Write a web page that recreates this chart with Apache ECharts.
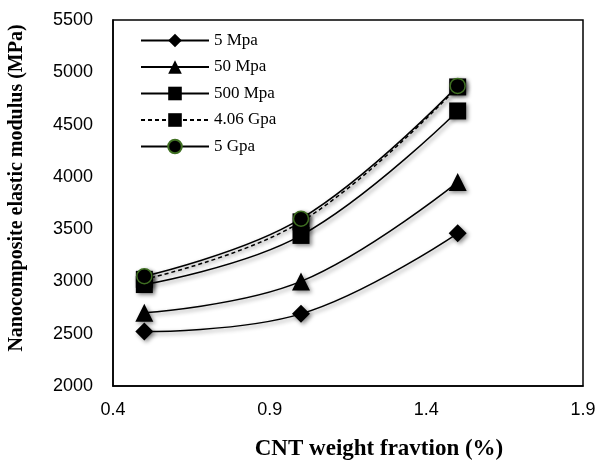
<!DOCTYPE html>
<html>
<head>
<meta charset="utf-8">
<script src="https://cdn.jsdelivr.net/npm/echarts@6/dist/echarts.min.js"></script>
<style>
  html, body { margin: 0; padding: 0; background: #fff; }
  #chart { width: 597px; height: 464px; }
</style>
</head>
<body>
<div id="chart"></div>
<script>
// CNT weight fraction (%)
const cntFraction = [0.5, 1.0, 1.5];

// Nanocomposite elastic modulus (MPa) per interphase modulus
const mod5Mpa   = [2520, 2690, 3460];
const mod50Mpa  = [2700, 3000, 3950];
const mod500Mpa = [2970, 3440, 4630];
const mod406Gpa = [3020, 3570, 4860];
const mod5Gpa   = [3050, 3600, 4870];

const seriesNames = ['5 Mpa', '50 Mpa', '500 Mpa', '4.06 Gpa', '5 Gpa'];

const xTickLabels = ['0.4', '0.9', '1.4', '1.9'];
const yTickLabels = ['2000', '2500', '3000', '3500', '4000', '4500', '5000', '5500'];

const pairs = vals => cntFraction.map((x, i) => [x, vals[i]]);

const shadow = {
  shadowColor: 'rgba(0,0,0,0.45)',
  shadowBlur: 4,
  shadowOffsetX: 2,
  shadowOffsetY: 2
};

function makeSeries(name, vals, symbol, size, opts) {
  opts = opts || {};
  return {
    name: name,
    type: 'line',
    data: pairs(vals),
    smooth: 0.4,
    symbol: symbol,
    symbolSize: size,
    showSymbol: true,
    lineStyle: Object.assign({ color: '#000', width: 1.5, type: opts.dash ? [4, 3] : 'solid' }, shadow),
    itemStyle: Object.assign({
      color: '#000',
      borderColor: opts.border || '#000',
      borderWidth: opts.borderWidth || 0
    }, shadow),
    emphasis: { disabled: true },
    z: opts.z || 2
  };
}

const chart = echarts.init(document.getElementById('chart'), null, { renderer: 'canvas' });

const tickFont = { fontFamily: 'Liberation Sans', fontSize: 18, color: '#000' };

chart.setOption({
  animation: false,
  backgroundColor: '#fff',
  grid: {
    left: 113, right: 14, top: 20, bottom: 78,
    outerBoundsMode: 'none',
    show: true, borderColor: '#000', borderWidth: 1.5
  },
  legend: {
    orient: 'vertical',
    left: 140,
    top: 32,
    padding: 0,
    itemWidth: 68,
    itemHeight: 17,
    itemGap: 9.5,
    data: seriesNames,
    textStyle: { fontFamily: 'Liberation Serif', fontSize: 17, color: '#000' }
  },
  xAxis: {
    type: 'value',
    min: 0.4, max: 1.9, interval: 0.5,
    axisLine: { show: true, lineStyle: { color: '#000', width: 1.5 } },
    axisTick: { show: false },
    splitLine: { show: false },
    axisLabel: Object.assign({
      margin: 15,
      formatter: v => xTickLabels[Math.round((v - 0.4) / 0.5)]
    }, tickFont),
    name: 'CNT weight fravtion (%)',
    nameLocation: 'middle',
    nameGap: 52,
    nameTextStyle: {
      fontFamily: 'Liberation Serif', fontWeight: 'bold', fontSize: 23, color: '#000',
      padding: [0, 0, 0, 62]
    }
  },
  yAxis: {
    type: 'value',
    min: 2000, max: 5500, interval: 500,
    axisLine: { show: true, lineStyle: { color: '#000', width: 1.5 } },
    axisTick: { show: false },
    splitLine: { show: false },
    axisLabel: Object.assign({
      margin: 20,
      formatter: v => yTickLabels[Math.round((v - 2000) / 500)]
    }, tickFont),
    name: 'Nanocomposite elastic modulus (MPa)',
    nameLocation: 'middle',
    nameGap: 86,
    nameTextStyle: {
      fontFamily: 'Liberation Serif', fontWeight: 'bold', fontSize: 20, color: '#000',
      padding: [0, 0, 0, 30]
    }
  },
  series: [
    makeSeries(seriesNames[0], mod5Mpa, 'diamond', 18),
    makeSeries(seriesNames[1], mod50Mpa, 'triangle', 18),
    makeSeries(seriesNames[2], mod500Mpa, 'rect', 17),
    makeSeries(seriesNames[3], mod406Gpa, 'rect', 17, { dash: true, z: 3 }),
    makeSeries(seriesNames[4], mod5Gpa, 'circle', 15, { border: '#3f6f22', borderWidth: 1.5, z: 4 })
  ]
});
</script>
</body>
</html>
